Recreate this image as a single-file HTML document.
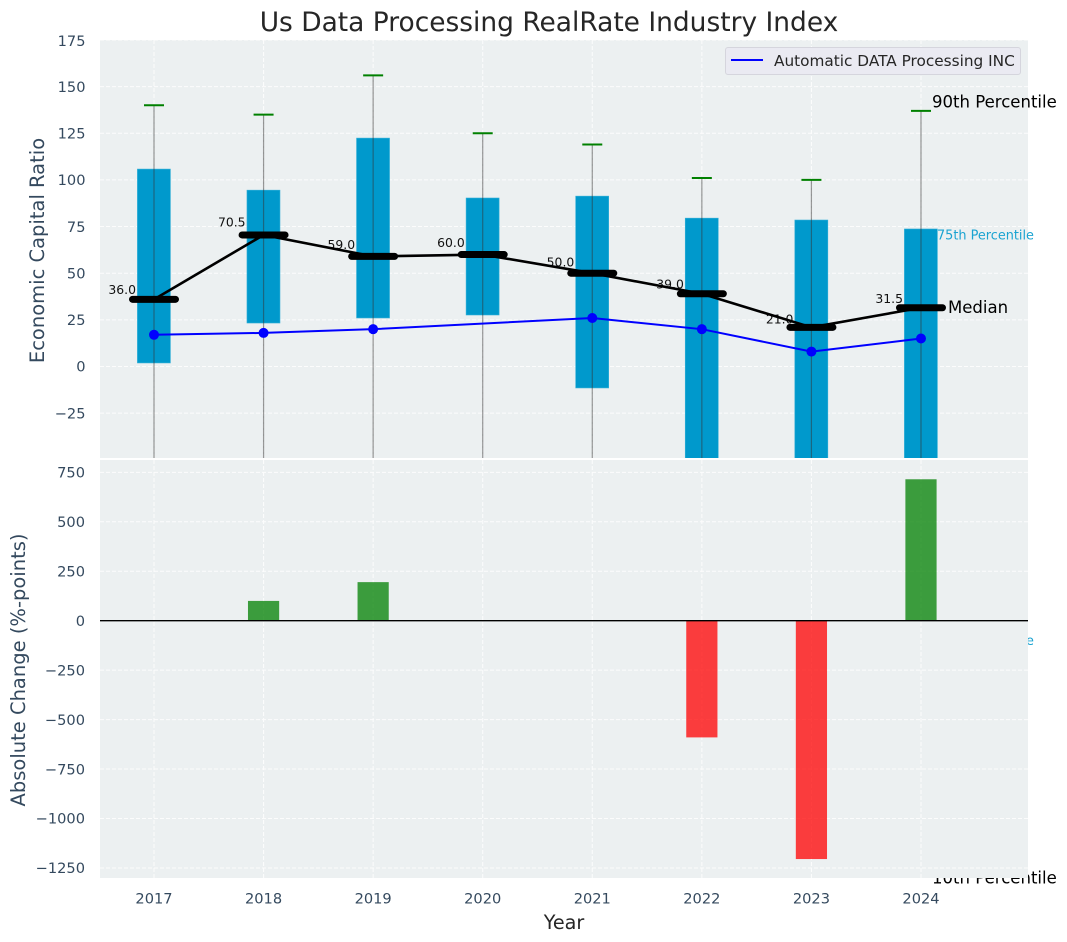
<!DOCTYPE html>
<html>
<head>
<meta charset="utf-8">
<style>
html,body{margin:0;padding:0;background:#fff;}
svg{display:block;font-family:"DejaVu Sans","Liberation Sans",sans-serif;}
</style>
</head>
<body>
<svg id="chart" width="1067" height="942" viewBox="0 0 1067 942" xmlns="http://www.w3.org/2000/svg"></svg>
<script>
const years = [2017, 2018, 2019, 2020, 2021, 2022, 2023, 2024];
const p90 = [140, 135, 156, 125, 119, 101, 100, 137];
const p75 = [105.8, 94.5, 122.4, 90.3, 91.3, 79.5, 78.5, 73.7];
const median = [36, 70.5, 59, 60, 50, 39, 21, 31.5];
const p25 = [1.9, 23.3, 26, 27.6, -11.5, -70, -80, -147];
const p10 = [-90, -70, -80, -60, -120, -180, -200, -274];
const company = [17, 18, 20, null, 26, 20, 8, 15];
const absoluteChange = [0, 100, 195, 0, 0, -590, -1205, 715];
const topTicks = [175, 150, 125, 100, 75, 50, 25, 0, -25];
const bottomTicks = [750, 500, 250, 0, -250, -500, -750, -1000, -1250];

const svgNS = 'http://www.w3.org/2000/svg';
const svg = document.getElementById('chart');
const TOP = {l: 100, r: 1028, t: 40, b: 458};
const BOT = {l: 100, r: 1028, t: 460, b: 878};
function xPos(i) { return 154 + i * 109.57; }
function yTop(v) { return 366.5 - v * 1.866; }
function yBot(v) { return 620.7 - v * 0.1978; }
function add(parent, tag, attrs, text) {
  const el = document.createElementNS(svgNS, tag);
  for (const k in attrs) el.setAttribute(k, attrs[k]);
  if (text !== undefined) el.textContent = text;
  parent.appendChild(el);
  return el;
}
function mark(el, name) {
  
  
  return el;
}

const defs = add(svg, 'defs', {});
const clip = add(defs, 'clipPath', {id: 'top-clip'});
add(clip, 'rect', {x: TOP.l, y: TOP.t, width: TOP.r - TOP.l, height: TOP.b - TOP.t});

/* Title */
mark(add(svg, 'text', {x: 549, y: 31, 'text-anchor': 'middle', 'font-size': 26.45, fill: '#262626'}, 'Us Data Processing RealRate Industry Index'), 'chart-title');

/* ---------- Top panel ---------- */
mark(add(svg, 'rect', {x: TOP.l, y: TOP.t, width: TOP.r - TOP.l, height: TOP.b - TOP.t, fill: '#ecf0f1'}), 'top-panel-background');
const topGrid = mark(add(svg, 'g', {stroke: '#fff', 'stroke-width': 1, 'stroke-dasharray': '4 2', opacity: 0.85}), 'top-grid');
topTicks.forEach(function (t) {
  add(topGrid, 'line', {x1: TOP.l, x2: TOP.r, y1: yTop(t), y2: yTop(t)});
});
years.forEach(function (y, i) {
  add(topGrid, 'line', {x1: xPos(i), x2: xPos(i), y1: TOP.t, y2: TOP.b});
});
const topTickGroup = mark(add(svg, 'g', {'font-size': 14.6, fill: '#34495e', 'text-anchor': 'end'}), 'top-y-axis-ticks');
topTicks.forEach(function (t) {
  add(topTickGroup, 'text', {x: 85.5, y: Math.max(yTop(t), 41) + 5.2}, String(t).replace('-', '\u2212'));
});
const topPlot = mark(add(svg, 'g', {'clip-path': 'url(#top-clip)'}), 'top-plot-area');

const boxes = mark(add(topPlot, 'g', {}), 'percentile-boxes');
years.forEach(function (y, i) {
  const box = add(boxes, 'rect', {
    x: xPos(i) - 16.6, width: 33,
    y: yTop(p75[i]), height: yTop(p25[i]) - yTop(p75[i]),
    fill: '#0099cc', stroke: '#33b0d8', 'stroke-width': 0.6
  });
  
  
});
const whiskers = mark(add(topPlot, 'g', {}), 'percentile-whiskers');
years.forEach(function (y, i) {
  const w = add(whiskers, 'line', {x1: xPos(i), x2: xPos(i), y1: yTop(p90[i]), y2: yTop(p10[i]), stroke: '#333', 'stroke-opacity': 0.5, 'stroke-width': 1.2});
  
  
  const c = add(whiskers, 'line', {x1: xPos(i) - 10, x2: xPos(i) + 10, y1: yTop(p90[i]), y2: yTop(p90[i]), stroke: '#008000', 'stroke-width': 2});
  
  
});

/* Median value labels (beneath the median lines) */
const medianLabels = mark(add(svg, 'g', {'font-size': 12.4, fill: '#111', 'text-anchor': 'end'}), 'median-value-labels');
years.forEach(function (y, i) {
  add(medianLabels, 'text', {x: xPos(i) - 18, y: yTop(median[i] * 1.054) - 1.5}, median[i].toFixed(1));
});

const medianLine = mark(add(svg, 'polyline', {
  points: years.map(function (y, i) { return xPos(i) + ',' + yTop(median[i]); }).join(' '),
  fill: 'none', stroke: '#000', 'stroke-width': 2.6
}), 'median-line');
const medianDashes = mark(add(svg, 'g', {stroke: '#000', 'stroke-width': 7, 'stroke-linecap': 'round'}), 'median-dashes');
years.forEach(function (y, i) {
  add(medianDashes, 'line', {x1: xPos(i) - 21.5, x2: xPos(i) + 21.5, y1: yTop(median[i]), y2: yTop(median[i])});
});

const companyPts = years.map(function (y, i) { return company[i] === null ? null : [xPos(i), yTop(company[i])]; }).filter(Boolean);
mark(add(svg, 'polyline', {
  points: companyPts.map(function (p) { return p.join(','); }).join(' '),
  fill: 'none', stroke: '#0000ff', 'stroke-width': 2
}), 'company-line');
const companyDots = mark(add(svg, 'g', {fill: '#0000ff'}), 'company-points');
companyPts.forEach(function (p) {
  add(companyDots, 'circle', {cx: p[0], cy: p[1], r: 5});
});

/* Percentile annotations for the last year */
const last = years.length - 1;
const lastX = xPos(last);
mark(add(svg, 'text', {x: lastX + 11, y: yTop(p90[last]) - 3.3, 'font-size': 16.55, fill: '#000'}, '90th Percentile'), 'label-90th-percentile');
mark(add(svg, 'text', {x: lastX + 16, y: yTop(p75[last]) + 10.5, 'font-size': 12.85, fill: '#1aa3d1'}, '75th Percentile'), 'label-75th-percentile');
mark(add(svg, 'text', {x: lastX + 27, y: yTop(median[last]) + 5.5, 'font-size': 16.55, fill: '#000'}, 'Median'), 'label-median');
mark(add(svg, 'text', {x: lastX + 16, y: yTop(p25[last]) + 4, 'font-size': 12.85, fill: '#1aa3d1'}, '25th Percentile'), 'label-25th-percentile');
mark(add(svg, 'text', {x: lastX + 11, y: yTop(p10[last]) + 5.5, 'font-size': 16.55, fill: '#000'}, '10th Percentile'), 'label-10th-percentile');

/* Legend */
const legend = mark(add(svg, 'g', {}), 'legend');
add(legend, 'rect', {x: 725.5, y: 47.5, width: 295, height: 27, rx: 2.5, fill: '#eaeaf2', stroke: '#d5d5dd', 'stroke-width': 1});
add(legend, 'line', {x1: 731, x2: 763, y1: 60, y2: 60, stroke: '#0000ff', 'stroke-width': 2});
add(legend, 'text', {x: 774, y: 66, 'font-size': 15.3, fill: '#262626'}, 'Automatic DATA Processing INC');

mark(add(svg, 'text', {x: 0, y: 0, transform: 'translate(44,250.5) rotate(-90)', 'text-anchor': 'middle', 'font-size': 19.5, fill: '#34495e'}, 'Economic Capital Ratio'), 'top-y-axis-title');

/* ---------- Bottom panel (covers overflowing labels) ---------- */
add(svg, 'rect', {x: BOT.l, y: TOP.b, width: BOT.r - BOT.l, height: 2, fill: '#fff'});
mark(add(svg, 'rect', {x: BOT.l, y: BOT.t, width: BOT.r - BOT.l, height: BOT.b - BOT.t, fill: '#ecf0f1'}), 'bottom-panel-background');
const botGrid = mark(add(svg, 'g', {stroke: '#fff', 'stroke-width': 1, 'stroke-dasharray': '4 2', opacity: 0.85}), 'bottom-grid');
bottomTicks.forEach(function (t) {
  add(botGrid, 'line', {x1: BOT.l, x2: BOT.r, y1: yBot(t), y2: yBot(t)});
});
years.forEach(function (y, i) {
  add(botGrid, 'line', {x1: xPos(i), x2: xPos(i), y1: BOT.t, y2: BOT.b});
});
const bars = mark(add(svg, 'g', {}), 'change-bars');
years.forEach(function (y, i) {
  const v = absoluteChange[i];
  if (!v) return;
  const b = add(bars, 'rect', {
    x: xPos(i) - 15.6, width: 31.2,
    y: Math.min(yBot(v), yBot(0)), height: Math.abs(yBot(v) - yBot(0)),
    fill: v > 0 ? '#008000' : '#ff0000', 'fill-opacity': 0.75
  });
  
  
});
mark(add(svg, 'line', {x1: BOT.l, x2: BOT.r, y1: yBot(0), y2: yBot(0), stroke: '#000', 'stroke-width': 1.4}), 'zero-line');
const botTickGroup = mark(add(svg, 'g', {'font-size': 14.6, fill: '#34495e', 'text-anchor': 'end'}), 'bottom-y-axis-ticks');
bottomTicks.forEach(function (t) {
  add(botTickGroup, 'text', {x: 85, y: yBot(t) + 5.2}, String(t).replace('-', '\u2212'));
});
const xTickGroup = mark(add(svg, 'g', {'font-size': 14.6, fill: '#34495e', 'text-anchor': 'middle'}), 'x-axis-ticks');
years.forEach(function (y, i) {
  add(xTickGroup, 'text', {x: xPos(i), y: 903.5}, String(y));
});
mark(add(svg, 'text', {x: 0, y: 0, transform: 'translate(25,670) rotate(-90)', 'text-anchor': 'middle', 'font-size': 19.5, fill: '#34495e'}, 'Absolute Change (%-points)'), 'bottom-y-axis-title');
mark(add(svg, 'text', {x: 564, y: 929, 'text-anchor': 'middle', 'font-size': 19.2, fill: '#262626'}, 'Year'), 'x-axis-title');
</script>
</body>
</html>
